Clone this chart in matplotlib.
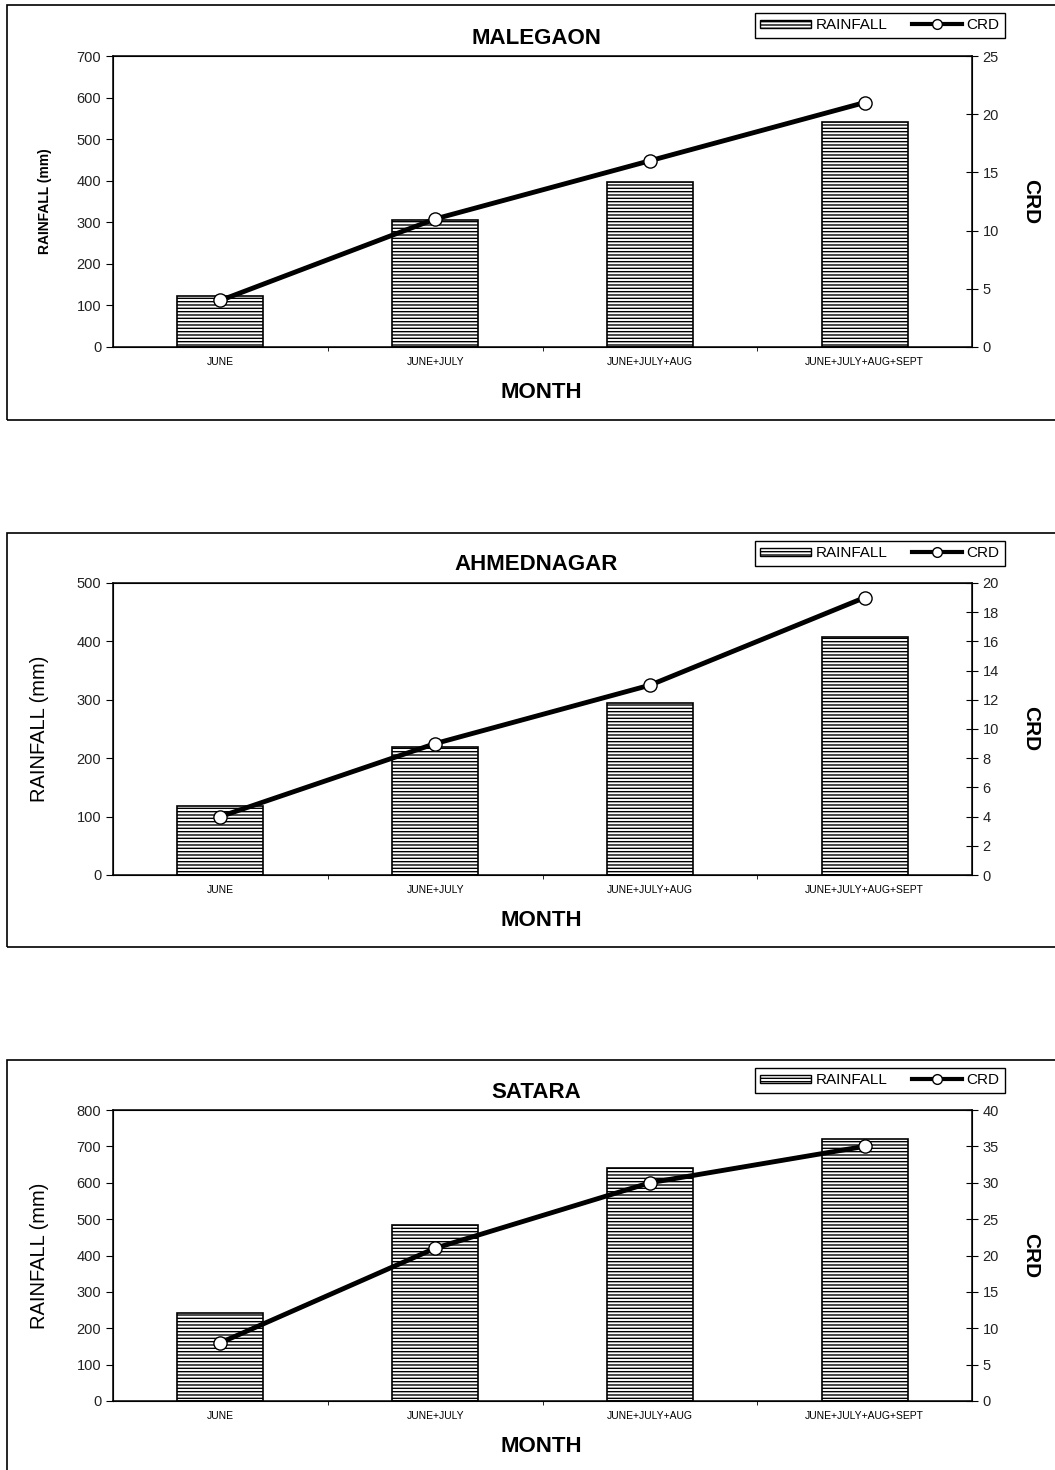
import numpy as np
import matplotlib
matplotlib.use('Agg')
import matplotlib.pyplot as plt
from matplotlib.patches import Rectangle, Patch
from matplotlib.lines import Line2D

plt.rcParams['font.family'] = ['Liberation Sans', 'DejaVu Sans']
plt.rcParams['hatch.linewidth'] = 1.0
plt.rcParams['hatch.color'] = '#3a3a3a'

### data
months = ['JUNE', 'JUNE+JULY', 'JUNE+JULY+AUG', 'JUNE+JULY+AUG+SEPT']
stations = ['MALEGAON', 'AHMEDNAGAR', 'SATARA']
rain_malegaon = [122, 305, 396, 542]
rain_ahmednagar = [118, 219, 295, 407]
rain_satara = [241, 484, 641, 721]
crd_malegaon = [4, 11, 16, 21]
crd_ahmednagar = [4, 9, 13, 19]
crd_satara = [8, 21, 30, 35]
rain_max = [700, 500, 800]
rain_step = [100, 100, 100]
crd_max = [25, 20, 40]
crd_step = [5, 2, 5]

rains = [rain_malegaon, rain_ahmednagar, rain_satara]
crds = [crd_malegaon, crd_ahmednagar, crd_satara]

W, H = 1055, 1470
fig = plt.figure(figsize=(W / 100, H / 100), dpi=100)

# pixel layout of each panel: (box top, box bottom, plot top, plot bottom)
panels = [(5, 420, 56, 347), (533, 947, 583, 875), (1060, 1480, 1110, 1401)]
left_px, right_px = 113, 972

def fx(px):
    return px / W

def fy(py):
    return 1 - py / H

x = np.arange(len(months))

for i, name in enumerate(stations):
    btop, bbot, ptop, pbot = panels[i]
    # outer chart box
    fig.patches.append(Rectangle((fx(7), fy(bbot)), fx(1060) - fx(7), fy(btop) - fy(bbot),
                                 transform=fig.transFigure, fill=False, edgecolor='black', lw=1.2))
    ax = fig.add_axes([fx(left_px), fy(pbot), fx(right_px) - fx(left_px), fy(ptop) - fy(pbot)])
    ax.bar(x, rains[i], width=0.4, color='white', edgecolor='black', hatch='-----', lw=1.2, zorder=2)
    ax.set_xlim(-0.5, 3.5)
    ax.set_ylim(0, rain_max[i])
    ax.set_yticks(np.arange(0, rain_max[i] + 1, rain_step[i]))
    ax.set_xticks(x)
    ax.set_xticklabels(months, fontsize=7.5)
    ax.set_xticks([0.5, 1.5, 2.5], minor=True)
    ax.tick_params(axis='x', which='major', length=0, pad=7)
    ax.tick_params(axis='x', which='minor', length=3, direction='out')
    ax.tick_params(axis='y', labelsize=10.5, length=5, direction='out', labelcolor='#222222')
    for s in ax.spines.values():
        s.set_linewidth(1.1)

    ax2 = ax.twinx()
    ax2.plot(x, crds[i], color='black', lw=3.5, marker='o', markersize=9.5,
             markerfacecolor='white', markeredgecolor='black', markeredgewidth=1, zorder=3)
    ax2.set_ylim(0, crd_max[i])
    ax2.set_yticks(np.arange(0, crd_max[i] + 1, crd_step[i]))
    ax2.tick_params(axis='y', labelsize=10.5, length=8, direction='inout', labelcolor='#222222')

    # texts
    fig.text(fx(536), fy(ptop - 18), name, ha='center', va='center', fontsize=16, fontweight='bold')
    fig.text(fx(541), fy(pbot + 45), 'MONTH', ha='center', va='center', fontsize=16, fontweight='bold')
    fig.text(fx(1031), fy((ptop + pbot) / 2), 'CRD', ha='center', va='center', fontsize=15,
             fontweight='bold', rotation=270)
    if i == 0:
        fig.text(fx(45), fy((ptop + pbot) / 2), 'RAINFALL (mm)', ha='center', va='center', fontsize=10,
                 fontweight='bold', rotation=90)
    else:
        fig.text(fx(40), fy((ptop + pbot) / 2), 'RAINFALL (mm)', ha='center', va='center', fontsize=14.5,
                 rotation=90)

    handles = [Patch(facecolor='white', edgecolor='black', hatch='-----', lw=1.0),
               Line2D([], [], color='black', lw=3, marker='o', markersize=7,
                      markerfacecolor='white', markeredgecolor='black')]
    leg = fig.legend(handles, ['RAINFALL', 'CRD'], loc='upper right',
                     bbox_to_anchor=(fx(1005), fy(btop + 8)), ncol=2, fontsize=11,
                     frameon=True, fancybox=False, edgecolor='black', framealpha=1,
                     handlelength=3.3, handleheight=0.5, handletextpad=0.3, columnspacing=1.6,
                     borderpad=0.35, borderaxespad=0)
    leg.get_frame().set_linewidth(1.0)

fig.savefig('out.png', dpi=100)
